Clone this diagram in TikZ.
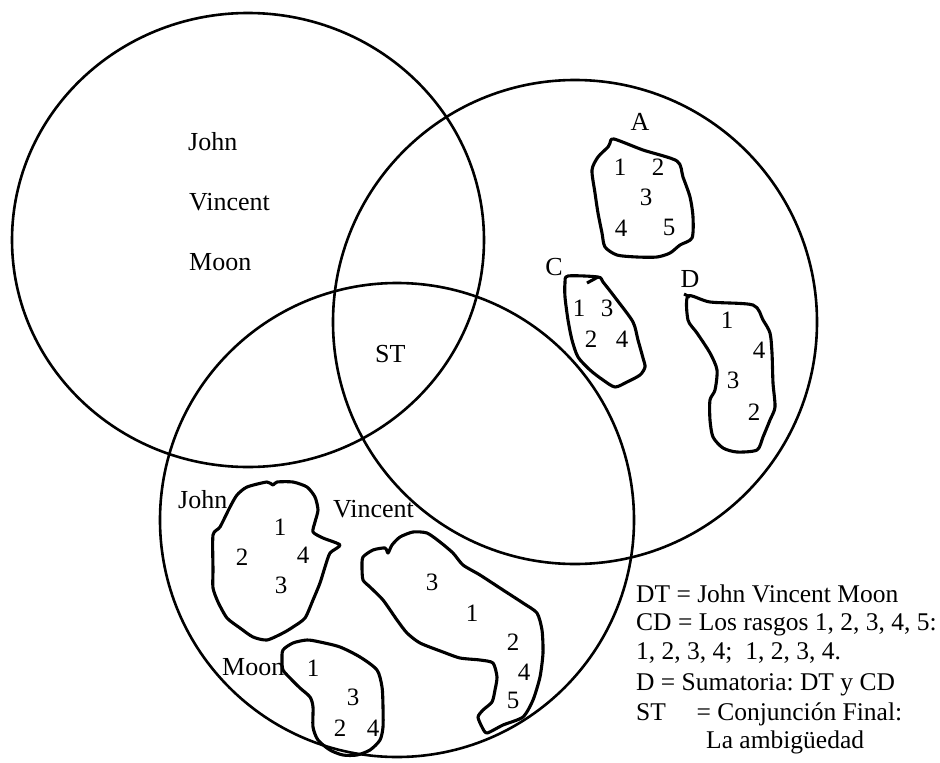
\documentclass[tikz,border=0pt]{standalone}
\usepackage{fontspec}
\setmainfont{Liberation Serif}
\frenchspacing
\begin{document}
\begin{tikzpicture}[x=1pt,y=-1pt,
  ring/.style={line width=2.6pt},
  blob/.style={line width=3.1pt,line join=round},
  lbl/.style={inner sep=0pt,anchor=base west,font=\fontsize{26}{30}\selectfont},
  dig/.style={inner sep=0pt,anchor=center,font=\fontsize{25}{29}\selectfont},
  leg/.style={inner sep=0pt,anchor=base west,font=\fontsize{25.5}{30}\selectfont}]
\useasboundingbox (0,0) rectangle (940,763);
% circles
\draw[ring] (248,240) ellipse [x radius=236pt, y radius=227pt];
\draw[ring] (575,322) circle [radius=242pt];
\draw[ring] (397,520) circle [radius=237pt];
% top-left circle labels
\node[lbl] (j1) at (188,150) {John};
\node[lbl] (v1) at (189,210) {Vincent};
\node[lbl] (m1) at (189,270) {Moon};
\node[lbl] (st) at (375,362) {ST};
% right circle: blob A
\node[lbl,anchor=base] (A) at (640,130) {A};
\draw[blob] plot[smooth cycle,tension=0.45] coordinates {(614,139) (643,150) (677,161) (683,177) (690,197) (693,217) (692,238) (680,245) (670,253) (657,257) (637,257) (617,255) (605,247) (602,233) (598,213) (595,193) (592,170) (598,157) (608,147) (610,143)};
\node[dig] (a1) at (620,167) {1};
\node[dig] (a2) at (658,167) {2};
\node[dig] (a3) at (646,197) {3};
\node[dig] (a4) at (621,228) {4};
\node[dig] (a5) at (669,227) {5};
% blob C
\node[lbl,anchor=base] (C) at (554,275) {C};
\draw[blob] plot[smooth cycle,tension=0.45] coordinates {(568,276) (598,277) (603,282) (617,300) (633,322) (638,340) (643,358) (645,367) (640,375) (627,382) (615,387) (603,380) (590,370) (578,357) (572,340) (568,320) (565,297) (565,283)};
\draw[blob] (587,283) -- (598,277);
\node[dig] (c1) at (579,308) {1};
\node[dig] (c3) at (607,308) {3};
\node[dig] (c2) at (591,339) {2};
\node[dig] (c4) at (622,339) {4};
% blob D
\node[lbl,anchor=base] (D) at (690,287) {D};
\draw[blob] plot[smooth cycle,tension=0.45] coordinates {(688,296) (710,302) (753,305) (763,320) (770,333) (772,353) (773,383) (775,407) (770,420) (763,437) (757,450) (737,452) (723,448) (713,437) (710,420) (710,400) (715,390) (717,370) (710,353) (697,333) (688,320)};
\draw[blob] (684,294) -- (690,297);
\node[dig] (d1) at (727,320) {1};
\node[dig] (d4) at (759,350) {4};
\node[dig] (d3) at (733,380) {3};
\node[dig] (d2) at (754,412) {2};
% bottom circle labels
\node[lbl] (j2) at (178,508) {John};
\node[lbl] (v2) at (333,517) {Vincent};
\node[lbl] (m2) at (222,675) {Moon};
% John blob
\draw[blob] plot[smooth cycle,tension=0.4] coordinates {(247,487) (267,482) (273,485) (277,482) (293,482) (307,487) (315,497) (318,510) (315,522) (313,532) (323,538) (340,545) (330,553) (325,567) (320,583) (313,600) (305,618) (293,627) (283,633) (267,640) (253,637) (240,628) (227,618) (218,602) (213,588) (213,570) (213,535) (220,527) (230,507) (237,495)};
\node[dig] (jb1) at (280,527) {1};
\node[dig] (jb2) at (242,557) {2};
\node[dig] (jb4) at (303,555) {4};
\node[dig] (jb3) at (281,585) {3};
% Moon blob
\draw[blob] plot[smooth cycle,tension=0.45] coordinates {(283,650) (293,643) (307,640) (320,642) (340,647) (360,657) (377,670) (382,687) (383,707) (383,727) (380,740) (370,750) (357,755) (343,755) (330,750) (318,740) (313,727) (313,707) (310,697) (300,688) (290,678) (283,670) (282,660)};
\node[dig] (mb1) at (313,668) {1};
\node[dig] (mb3) at (353,697) {3};
\node[dig] (mb2) at (340,728) {2};
\node[dig] (mb4) at (373,728) {4};
% Vincent blob
\draw[blob] plot[smooth cycle,tension=0.4] coordinates {(363,557) (373,550) (385,548) (388,553) (392,545) (400,537) (413,532) (427,533) (440,542) (453,553) (463,565) (480,575) (503,590) (523,603) (537,613) (542,630) (543,653) (540,677) (533,700) (523,717) (503,725) (487,733) (482,727) (478,717) (483,710) (492,702) (495,690) (497,677) (493,663) (480,660) (460,658) (443,652) (420,643) (407,633) (397,620) (383,600) (370,587) (363,580) (362,567)};
\node[dig] (vb3) at (432,582) {3};
\node[dig] (vb1) at (472,613) {1};
\node[dig] (vb2) at (513,642) {2};
\node[dig] (vb4) at (524,672) {4};
\node[dig] (vb5) at (513,700) {5};
% legend
\node[leg] (l1) at (636,602) {DT = John Vincent Moon};
\node[leg] (l2) at (636,630) {CD = Los rasgos 1, 2, 3, 4, 5:};
\node[leg] (l3) at (636,659) {1, 2, 3, 4;\ \ 1, 2, 3, 4.};
\node[leg] (l4) at (636,690) {D = Sumatoria: DT y CD};
\node[leg] (l5) at (636,720) {ST\hspace{1.2em}= Conjunción Final:};
\node[leg] (l6) at (706,748) {La ambigüedad};
\end{tikzpicture}
\end{document}
